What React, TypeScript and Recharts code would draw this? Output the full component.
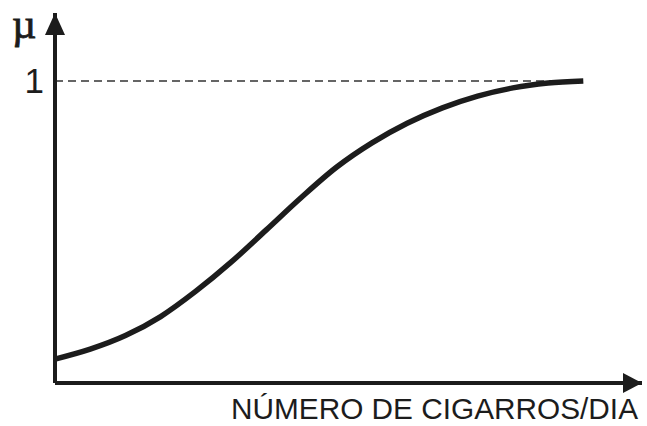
import React from 'react';
import { LineChart, Line, XAxis, YAxis, ReferenceLine, ReferenceDot } from 'recharts';

// Cigarettes per day (relative units, 0-100 along the axis) and membership degree µ
const cigarros = [0, 6, 12, 18, 24, 30, 36, 42, 48, 54, 60, 66, 72, 78, 84, 90];
const mu = [0.079, 0.112, 0.157, 0.22, 0.304, 0.4, 0.507, 0.615, 0.715, 0.795, 0.86, 0.911, 0.95, 0.977, 0.993, 1.0];
const yTicks = [1];
const xTitle = 'NÚMERO DE CIGARROS/DIA';
const yTitle = 'µ';

const data = cigarros.map((x, i) => ({ x, mu: mu[i] }));

const INK = '#1c1c1c';

const RightArrow = (props: any) => {
  const { cx, cy } = props;
  return <path d={`M${cx},${cy} L${cx - 19},${cy - 10} L${cx - 19},${cy + 10} Z`} fill={INK} />;
};

const UpArrow = (props: any) => {
  const { cx, cy } = props;
  return <path d={`M${cx},${cy} L${cx - 10},${cy + 22} L${cx + 10},${cy + 22} Z`} fill={INK} />;
};

const OneTick = (props: any) => {
  const { y, payload } = props;
  return (
    <text x={44} y={y} dy={12} textAnchor="end" fontFamily="'Liberation Sans', Arial, sans-serif" fontSize={35} fill={INK}>
      {payload.value}
    </text>
  );
};

const XTitle = (props: any) => {
  const { viewBox } = props;
  const right = viewBox.x + viewBox.width - 4;
  return (
    <text
      x={right - 407}
      y={viewBox.y + 36}
      textLength={407}
      lengthAdjust="spacingAndGlyphs"
      fontFamily="'Liberation Sans', Arial, sans-serif"
      fontSize={30}
      fill={INK}
    >
      {xTitle}
    </text>
  );
};

const YTitle = () => (
  <text
    x={12}
    y={38}
    fontFamily="'Liberation Serif', 'Times New Roman', serif"
    fontSize={42}
    fill={INK}
    stroke={INK}
    strokeWidth={0.8}
  >
    {yTitle}
  </text>
);

export default function App() {
  return (
    <div style={{ position: 'absolute', left: 0, top: 0, background: '#fff' }}>
      <LineChart width={647} height={426} data={data} margin={{ top: 13, right: 5, bottom: 42, left: 54 }}>
        <XAxis
          dataKey="x"
          type="number"
          domain={[0, 100]}
          height={1}
          tick={false}
          tickLine={false}
          axisLine={{ stroke: INK, strokeWidth: 4 }}
          label={{ content: XTitle }}
        />
        <YAxis
          type="number"
          domain={[0, 1.225]}
          width={1}
          ticks={yTicks}
          tick={OneTick}
          tickLine={false}
          axisLine={{ stroke: INK, strokeWidth: 4 }}
          label={{ content: YTitle }}
        />
        <ReferenceLine
          segment={[{ x: 0, y: 1 }, { x: 90, y: 1 }]}
          stroke="#333"
          strokeWidth={1.5}
          strokeDasharray="8 5"
        />
        <Line
          type="monotone"
          dataKey="mu"
          stroke={INK}
          strokeWidth={5.5}
          dot={false}
          activeDot={false}
          isAnimationActive={false}
        />
        <ReferenceDot x={100} y={0} ifOverflow="visible" shape={RightArrow} />
        <ReferenceDot x={0} y={1.225} ifOverflow="visible" shape={UpArrow} />
      </LineChart>
    </div>
  );
}
